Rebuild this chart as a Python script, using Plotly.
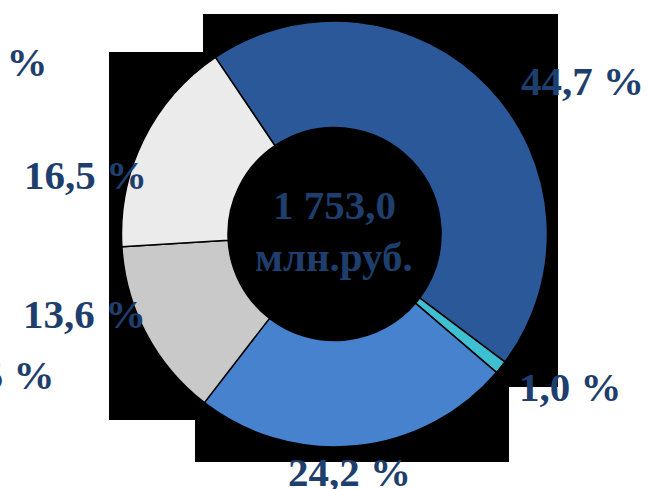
import plotly.graph_objects as go

W, H = 650, 489

# Data
categories = ["A", "B", "C", "D", "E"]
shares = [44.7, 1.0, 24.2, 13.6, 16.5]
labels_txt = ["44,7 %", "1,0 %", "24,2 %", "13,6 %", "16,5 %"]
colors = ["#2B5898", "#3FBFD2", "#4682CE", "#C9C9C9", "#EBEBEB"]
center_lines = ["1 753,0", "млн.руб."]
clipped_labels = ["0,0 %", "1,5 %"]

TXT = "#1E3F6E"
FONT = "Liberation Serif"

def px(x):
    return x / W

def py(y):
    return 1 - y / H

cx, cy, r = 334.5, 234, 213

fig = go.Figure(go.Pie(
    labels=categories,
    values=shares,
    sort=False,
    direction="clockwise",
    rotation=-34,
    hole=0.5,
    marker=dict(colors=colors, line=dict(color="black", width=1.5)),
    textinfo="none",
    hoverinfo="label+percent",
    showlegend=False,
    domain=dict(x=[px(cx - r), px(cx + r)], y=[py(cy + r), py(cy - r)]),
))

# black backdrop behind the donut
pts = [(203, 14), (558, 14), (558, 387), (509, 387), (509, 462), (195, 462),
       (195, 420), (109, 420), (109, 52), (203, 52)]
path = "M " + " L ".join(f"{px(x):.5f},{py(y):.5f}" for x, y in pts) + " Z"
fig.add_shape(type="path", path=path, xref="paper", yref="paper",
              fillcolor="black", line=dict(width=0), layer="below")

label_pos = [(582, 81), (570, 387), (349, 472), (84, 314), (85, 175)]
ann = []
for t, (x, y) in zip(labels_txt, label_pos):
    ann.append(dict(text=f"<b>{t}</b>", x=px(x), y=py(y), xref="paper", yref="paper",
                    showarrow=False, xanchor="center", yanchor="middle",
                    font=dict(family=FONT, size=41, color=TXT)))
for t, (x, y) in zip(clipped_labels, [(50, 62), (57, 375)]):
    ann.append(dict(text=f"<b>{t}</b>", x=px(x), y=py(y), xref="paper", yref="paper",
                    showarrow=False, xanchor="right", yanchor="middle",
                    font=dict(family=FONT, size=41, color=TXT)))
for t, (x, y) in zip(center_lines, [(334, 205), (334, 257)]):
    ann.append(dict(text=f"<b>{t}</b>", x=px(x), y=py(y), xref="paper", yref="paper",
                    showarrow=False, xanchor="center", yanchor="middle",
                    font=dict(family=FONT, size=41, color=TXT)))

fig.update_layout(
    width=W, height=H,
    margin=dict(l=0, r=0, t=0, b=0),
    paper_bgcolor="white", plot_bgcolor="white",
    annotations=ann,
)

fig.write_html("out.html", config={"displayModeBar": False},
               post_script="document.body.style.margin='0';document.body.style.overflow='hidden';")
